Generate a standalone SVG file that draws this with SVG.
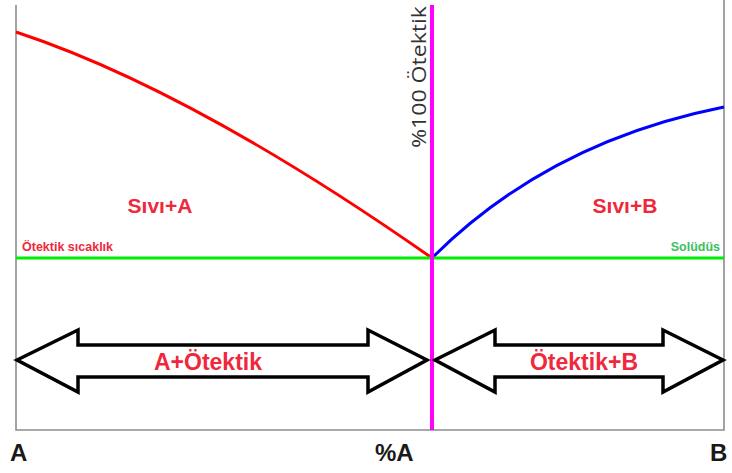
<svg xmlns="http://www.w3.org/2000/svg" width="732" height="473" viewBox="0 0 732 473">
<style>
.axis{fill:none;stroke:#8c8c8c;stroke-width:1.6}
.arrow{fill:#fff;stroke:#000;stroke-width:3.5;stroke-linejoin:miter}
.lbl{font-family:"Liberation Sans",Arial,sans-serif;font-weight:bold}
.red{fill:#f0283c}
.ax{fill:#1a1a1a;font-size:24px}
</style>
<rect width="732" height="473" fill="#fff"/>
<g id="axes">
<polyline class="axis" points="16,5 16,430 724,430 724,0"/>
</g>
<g id="connectors">
<path id="liquidus-A" d="M16,32 Q192,90 432,258" fill="none" stroke="#ff0000" stroke-width="3"/>
<path id="liquidus-B" d="M432,258 Q548,142 724,107" fill="none" stroke="#0000ff" stroke-width="3"/>
<line id="eutectic-line" x1="16" y1="258" x2="724" y2="258" stroke="#00ee00" stroke-width="3"/>
<line id="eutectic-comp" x1="432" y1="5" x2="432" y2="430" stroke="#ff00ff" stroke-width="4"/>
</g>
<g id="arrow-left">
<polygon class="arrow" points="17,360 78,330 78,345 368,345 368,330 427,360 368,392 368,377 78,377 78,392"/>
<text class="lbl red" x="208" y="370" font-size="23" text-anchor="middle">A+Ötektik</text>
</g>
<g id="arrow-right">
<polygon class="arrow" points="435,360 495,330 495,345 663,345 663,330 723,360 663,392 663,377 495,377 495,392"/>
<text class="lbl red" x="584" y="370" font-size="23" text-anchor="middle">Ötektik+B</text>
</g>
<g id="labels">
<text class="lbl red" x="160" y="213" font-size="21" text-anchor="middle">Sıvı+A</text>
<text class="lbl red" x="625" y="213" font-size="21" text-anchor="middle">Sıvı+B</text>
<text class="lbl red" x="22" y="251" font-size="12.5">Ötektik sıcaklık</text>
<text class="lbl" x="720" y="251" font-size="12.5" text-anchor="end" fill="#3cc060">Solüdüs</text>
<text x="0" y="0" transform="translate(426,148) rotate(-90)" font-family="'Open Sans','Liberation Sans',sans-serif" font-size="20" fill="#333" textLength="142" lengthAdjust="spacingAndGlyphs">%100 Ötektik</text>
<text class="lbl ax" x="10" y="461">A</text>
<text class="lbl ax" x="375" y="461">%A</text>
<text class="lbl ax" x="710" y="461">B</text>
</g>
</svg>
